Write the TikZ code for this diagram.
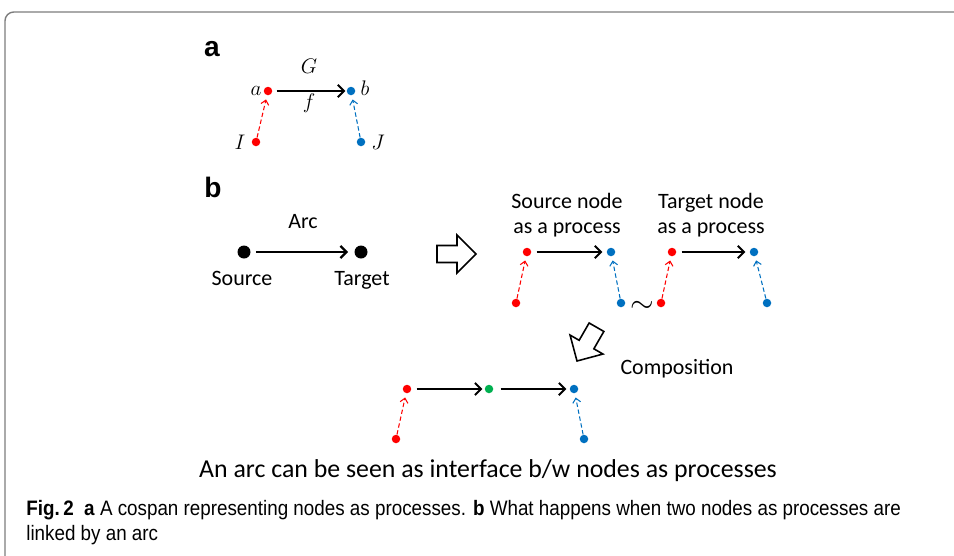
\documentclass[tikz,border=0pt]{standalone}
\usepackage{fontspec}
\setsansfont{Carlito}
\newfontfamily\panelfont{Liberation Sans}
\newfontfamily\capfont[FakeStretch=0.9]{Liberation Sans}
\usetikzlibrary{arrows.meta,positioning}
\definecolor{npred}{RGB}{255,0,0}
\definecolor{npblue}{RGB}{0,112,192}
\definecolor{npgreen}{RGB}{0,176,80}
\definecolor{npframe}{RGB}{125,125,125}

\tikzset{
  fatarrow/.pic={
    \draw[line width=0.9pt, line join=miter, fill=white]
      (-39,-8.5) -- (-19,-8.5) -- (-19,-19) -- (0,0) -- (-19,19) -- (-19,8.5) -- (-39,8.5) -- cycle;
  }
}

\begin{document}
\begin{tikzpicture}[x=0.02cm, y=-0.02cm,
  every node/.style={font=\sffamily\fontsize{12.5}{14.2}\selectfont},
  dot/.style={circle, inner sep=0pt, minimum size=0.17cm},
  bigdot/.style={circle, inner sep=0pt, minimum size=0.26cm, fill=black},
  reddot/.style={dot, fill=npred},
  bluedot/.style={dot, fill=npblue},
  greendot/.style={dot, fill=npgreen},
  flow/.style={-{Straight Barb[length=3.5pt,width=7pt]}, line width=1.1pt},
  arcline/.style={flow, line width=1.3pt},
  leg/.style={-{Straight Barb[length=2.5pt,width=4.5pt]}, line width=0.6pt,
    dash pattern=on 2.5pt off 1.5pt, shorten >=2.3pt},
  panel/.style={font=\panelfont\bfseries\fontsize{16}{18}\selectfont, anchor=base},
  var/.style={font=\fontsize{12.5}{14}\selectfont, anchor=base, inner sep=0pt},
  lab/.style={anchor=base, inner sep=0pt},
  two/.style={lab, align=center, font=\sffamily\fontsize{12.5}{14.2}\selectfont}
]
  \useasboundingbox (0,0) rectangle (954,555);
  % frame, cut at the page edges
  \draw[npframe, line width=0.8pt, rounded corners=5pt] (5,570) -- (5,12) -- (970,12);

  % a: cospan
  \node[panel] (pa) at (212,56) {a};
  \node[reddot] (a) at (268,91) {};
  \node[bluedot] (b) at (351,91) {};
  \node[reddot] (I) at (256,142) {};
  \node[bluedot] (J) at (361,142) {};
  \node[var] (alab) at (256,95) {$a$};
  \node[var] (blab) at (365,95) {$b$};
  \node[var] (Ilab) at (240,149) {$I$};
  \node[var] (Jlab) at (378,149) {$J$};
  \node[var] (Glab) at (309,73) {$G$};
  \node[var] (flab) at (309,108) {$f$};
  \draw[flow, shorten <=2.3pt, shorten >=0.6pt] (a) -- (b);
  \draw[leg, npred] (I) -- (a);
  \draw[leg, npblue] (J) -- (b);

  % b: arc between two nodes
  \node[panel] (pb) at (213,197) {b};
  \node[bigdot] (src) at (244,252) {};
  \node[bigdot] (tgt) at (361,252) {};
  \node[lab] (arc) at (303,228) {Arc};
  \node[lab] (srclab) at (242,285) {Source};
  \node[lab] (tgtlab) at (362,285) {Target};
  \draw[arcline, shorten <=2.8pt, shorten >=3.4pt] (src) -- (tgt);

  \pic (imply) at (476,254) {fatarrow};

  % nodes as processes (base = last line)
  \node[two] (srcproc) at (567,233) {Source node\\as a process};
  \node[two] (tgtproc) at (711,233) {Target node\\as a process};
  \node[reddot] (s1) at (527,252) {};
  \node[bluedot] (s2) at (611,252) {};
  \node[reddot] (s0) at (516,303) {};
  \node[bluedot] (s3) at (621,303) {};
  \node[reddot] (t1) at (672,252) {};
  \node[bluedot] (t2) at (754,252) {};
  \node[reddot] (t0) at (661,303) {};
  \node[bluedot] (t3) at (767,303) {};
  \node[inner sep=0pt] (tilde) at (642,307) {\fontsize{16}{16}\selectfont$\sim$};
  \draw[flow, shorten <=2.8pt, shorten >=2.3pt] (s1) -- (s2);
  \draw[flow, shorten <=2.8pt, shorten >=2.3pt] (t1) -- (t2);
  \draw[leg, npred] (s0) -- (s1);
  \draw[leg, npblue] (s3) -- (s2);
  \draw[leg, npred] (t0) -- (t1);
  \draw[leg, npblue] (t3) -- (t2);

  % composition
  \pic[rotate=240] (compose) at (577,361) {fatarrow};
  \node[lab] (complab) at (677,374) {Composition};
  \node[reddot] (c1) at (407,389) {};
  \node[greendot] (c2) at (489,389) {};
  \node[bluedot] (c3) at (574,389) {};
  \node[reddot] (c0) at (396,439) {};
  \node[bluedot] (c4) at (584,439) {};
  \draw[flow, shorten <=2.8pt, shorten >=1.1pt] (c1) -- (c2);
  \draw[flow, shorten <=4pt, shorten >=1.7pt] (c2) -- (c3);
  \draw[leg, npred] (c0) -- (c1);
  \draw[leg, npblue] (c4) -- (c3);

  \node[lab, font=\sffamily\fontsize{14.7}{16}\selectfont] (sentence) at (488,477)
    {An arc can be seen as interface b/w nodes as processes};

  % caption (base = last line)
  \node[anchor=base west, align=left, inner sep=0pt,
    font=\capfont\fontsize{11.9}{14.2}\selectfont] (caption) at (26,540)
    {\textbf{Fig.\,2}\enspace\textbf{a} A cospan representing nodes as processes. \textbf{b} What happens when two nodes as processes are\\linked by an arc};
\end{tikzpicture}
\end{document}
